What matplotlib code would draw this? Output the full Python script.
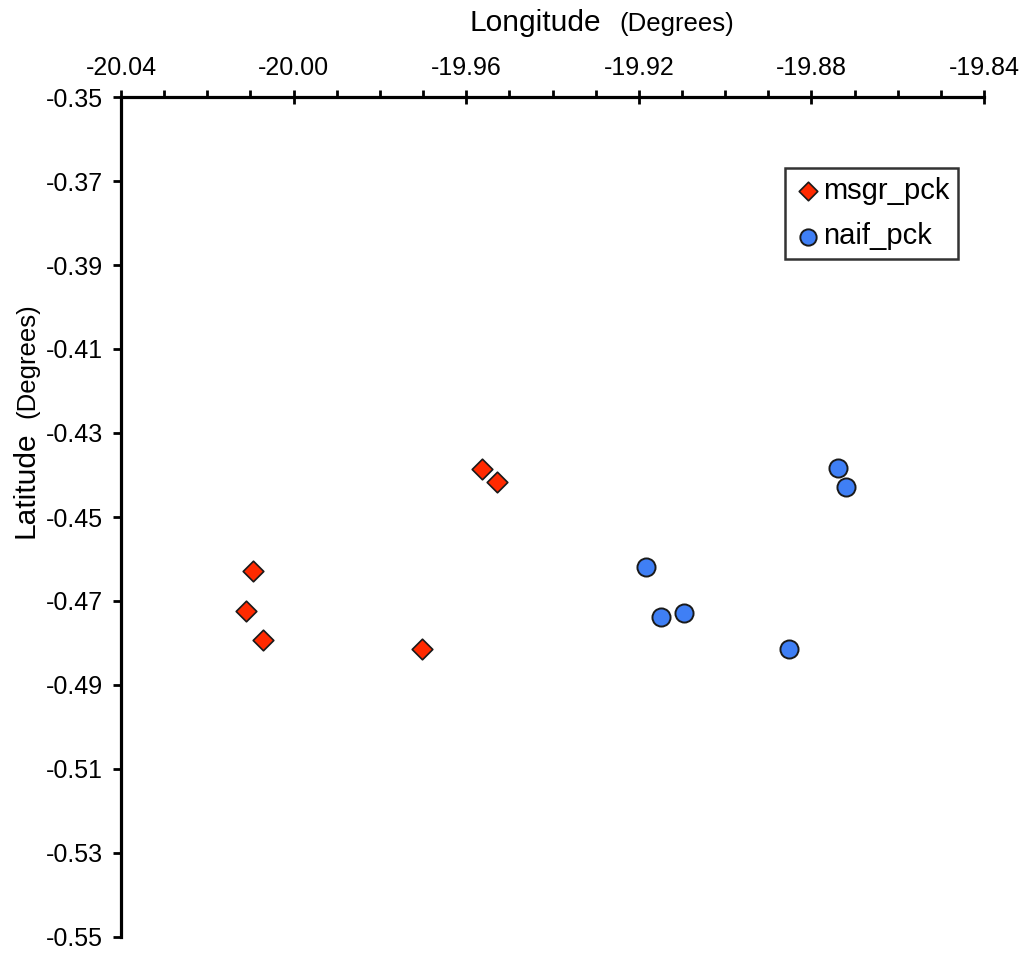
import matplotlib
matplotlib.use("Agg")
import matplotlib.pyplot as plt
from matplotlib.ticker import MultipleLocator, FixedLocator, FormatStrFormatter

plt.rcParams['font.family'] = ['Liberation Sans', 'DejaVu Sans']

msgr_lon = [-20.0094, -20.0110, -20.0071, -19.9702, -19.9563, -19.9529]
msgr_lat = [-0.4629, -0.4724, -0.4793, -0.4814, -0.4386, -0.4417]
naif_lon = [-19.9183, -19.9149, -19.9095, -19.8852, -19.8738, -19.8720]
naif_lat = [-0.4619, -0.4738, -0.4729, -0.4814, -0.4383, -0.4429]
y_ticks = [-0.35, -0.37, -0.39, -0.41, -0.43, -0.45, -0.47, -0.49, -0.51, -0.53, -0.55]

W, H = 1028, 958
fig = plt.figure(figsize=(W/100, H/100), dpi=100)
ax = fig.add_axes([121/W, 21/H, 863/W, 840/H])

ax.scatter(msgr_lon, msgr_lat, marker='D', s=110, color='#FF2A00',
           edgecolors='#1a1a1a', linewidths=1.2, label='msgr_pck', zorder=3)
ax.scatter(naif_lon, naif_lat, marker='o', s=170, color='#3F7FF5',
           edgecolors='#1a1a1a', linewidths=1.4, label='naif_pck', zorder=3)

ax.set_xlim(-20.04, -19.84)
ax.set_ylim(-0.55, -0.35)

ax.xaxis.set_major_locator(MultipleLocator(0.04))
ax.xaxis.set_minor_locator(MultipleLocator(0.01))
ax.xaxis.set_major_formatter(FormatStrFormatter('%.2f'))
ax.yaxis.set_major_locator(FixedLocator(y_ticks))
ax.yaxis.set_major_formatter(FormatStrFormatter('%.2f'))

ax.xaxis.tick_top()
for s in ['right', 'bottom']:
    ax.spines[s].set_visible(False)
for s in ['left', 'top']:
    ax.spines[s].set_linewidth(2.3)

ax.tick_params(axis='x', which='major', direction='inout', length=10, width=2,
               labelsize=18, pad=7)
ax.tick_params(axis='x', which='minor', direction='out', length=5, width=2)
ax.tick_params(axis='y', which='major', direction='out', length=6, width=2,
               labelsize=18, pad=7)

# axis titles (two sizes, as in the reference)
fig.text(470/W, 1 - 31/H, 'Longitude', fontsize=21.5, ha='left', va='baseline')
fig.text(619/W, 1 - 31/H, '(Degrees)', fontsize=18.5, ha='left', va='baseline')
fig.text(34/W, 1 - 538/H, 'Latitude', fontsize=21.5, rotation=90,
         rotation_mode='anchor', ha='left', va='baseline')
fig.text(34/W, 1 - 418/H, '(Degrees)', fontsize=18.5, rotation=90,
         rotation_mode='anchor', ha='left', va='baseline')

leg = ax.legend(loc='upper right', bbox_to_anchor=((958-121)/863, 1 - (168-97)/840),
                bbox_transform=ax.transAxes, frameon=True, fancybox=False,
                fontsize=21, handletextpad=0.0, handlelength=1.0, borderpad=0.3,
                labelspacing=0.6, borderaxespad=0, markerscale=0.9)
leg.get_frame().set_edgecolor('black')
leg.get_frame().set_linewidth(1.8)

fig.savefig('out.png', dpi=100, facecolor='white')
